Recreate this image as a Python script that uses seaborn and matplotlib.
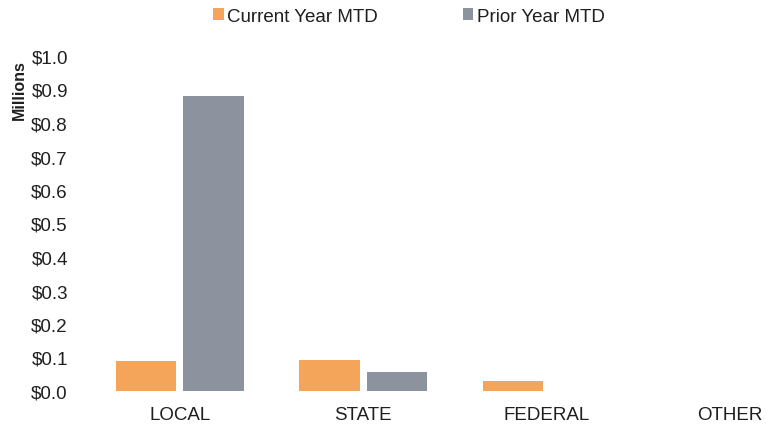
import matplotlib
matplotlib.use("Agg")
import matplotlib.pyplot as plt
import seaborn as sns
import pandas as pd
from matplotlib.patches import Patch

categories = ["LOCAL", "STATE", "FEDERAL", "OTHER"]
current_year_mtd = [0.090, 0.093, 0.031, 0.0]
prior_year_mtd = [0.880, 0.057, 0.0, 0.0]
series_names = ["Current Year MTD", "Prior Year MTD"]
y_ticks = [0.0, 0.1, 0.2, 0.3, 0.4, 0.5, 0.6, 0.7, 0.8, 0.9, 1.0]

colors = {"Current Year MTD": "#F4A55A", "Prior Year MTD": "#8C939F"}

df = pd.DataFrame({
    "Category": categories * 2,
    "Series": [series_names[0]] * len(categories) + [series_names[1]] * len(categories),
    "Value": current_year_mtd + prior_year_mtd,
})

sns.set_theme(style="white")
plt.rcParams["font.family"] = ["Liberation Sans", "DejaVu Sans"]
text_color = "#1f1f1f"
fs = 13.5

fig = plt.figure(figsize=(7.66, 4.27), dpi=100)
ax = fig.add_axes([88 / 766, 1 - 392 / 427, (766 - 88) / 766, (392 - 57) / 427])

sns.barplot(data=df, x="Category", y="Value", hue="Series", order=categories,
            hue_order=series_names, palette=colors, width=0.736, gap=0.11,
            saturation=1, ax=ax, legend=False, linewidth=0)

ax.set_xlim(-0.5, -0.5 + (766 - 88) / 183.5)
ax.set_ylim(0, 1.0)
ax.set_yticks(y_ticks)
ax.set_yticklabels([f"${v:.1f}" for v in y_ticks])
ax.tick_params(axis="y", length=0, pad=14.5, labelsize=fs, labelcolor=text_color)
ax.tick_params(axis="x", length=0, pad=10.5, labelsize=fs, labelcolor=text_color)
ax.set_xlabel("")
ax.set_ylabel("")
for s in ax.spines.values():
    s.set_visible(False)

fig.text(19 / 766, 1 - 90 / 427, "Millions", rotation=90, ha="center", va="center",
         fontsize=11.5, fontweight="bold", color=text_color)

handles = [Patch(facecolor=colors[n], edgecolor="none") for n in series_names]
fig.legend(handles, series_names, loc="center", bbox_to_anchor=(409 / 766, 1 - 17 / 427),
           ncol=2, frameon=False, fontsize=fs, handlelength=0.55, handleheight=0.55,
           handletextpad=0.2, columnspacing=4.5, labelcolor=text_color)

fig.savefig("out.png", dpi=100, facecolor="white")
